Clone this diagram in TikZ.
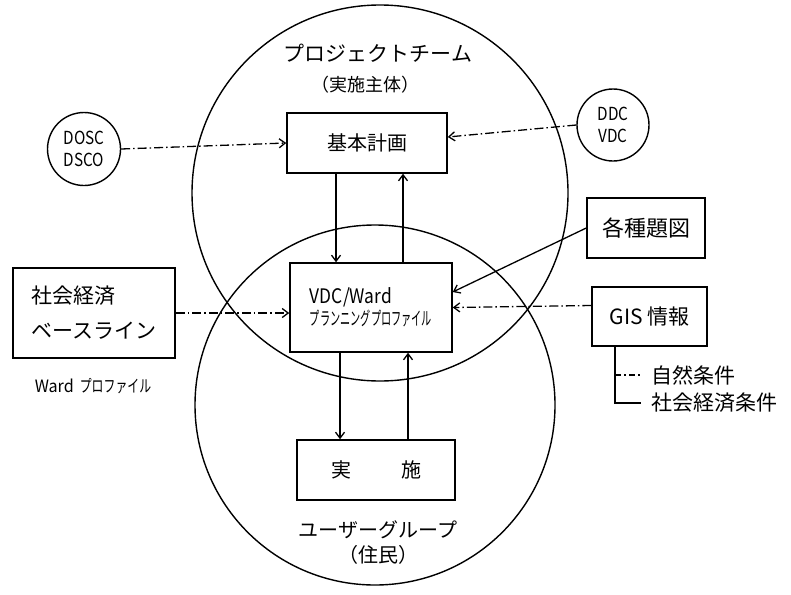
\documentclass[tikz,border=0pt]{standalone}
\usepackage{fontspec}
\setmainfont{Noto Sans CJK JP}
\usetikzlibrary{arrows.meta}
\begin{document}
\begin{tikzpicture}[x=1pt,y=-1pt,
  ln/.style={line width=1.4pt},
  box/.style={draw,line width=1.5pt,inner sep=0pt,fill=white},
  arr/.style={line width=1.3pt,-{Straight Barb[length=6pt,width=9pt]}},
  dd/.style={dash pattern=on 9pt off 3pt on 1.5pt off 3pt},
  jp/.style={font=\fontsize{20}{24}\selectfont},
  sm/.style={font=\fontsize{18}{22}\selectfont},
  lbl/.style={inner sep=0pt},
]
\useasboundingbox (0,0) rectangle (791,594);
% big circles
\draw[ln] (380,193) circle[radius=188pt];
\draw[ln] (375,405) circle[radius=180pt];
% circle labels
\node[lbl,jp,font=\fontsize{21}{24}\selectfont] (pt) at (378,53) {プロジェクトチーム};
\node[lbl,font=\fontsize{18}{22}\selectfont] (pt2) at (365,85) {（実施主体）};
\node[lbl,jp] (ug) at (378,530) {ユーザーグループ};
\node[lbl,jp] (ug2) at (378,555) {（住民）};
% small circles
\node[circle,draw,line width=1.4pt,minimum size=73pt,inner sep=0pt,align=center,sm] (dosc) at (84,149)
  {\scalebox{0.85}[1]{DOSC}\\\scalebox{0.85}[1]{DSCO}};
\node[circle,draw,line width=1.4pt,minimum size=72pt,inner sep=0pt,align=center,sm] (ddc) at (613,125)
  {\scalebox{0.85}[1]{DDC}\\\scalebox{0.85}[1]{VDC}};
% boxes
\node[box,jp,minimum width=160pt,minimum height=60pt] (kihon) at (367,143) {基本計画};
\node[box,minimum width=162pt,minimum height=89pt,align=left] (vdc) at (371,307.5)
  {\scalebox{0.87}[1]{\fontsize{20}{24}\selectfont VDC/Ward}\\[2pt]
   \scalebox{0.55}[1]{\fontsize{18.5}{22}\selectfont プランニングプロファイル}};
\node[box,jp,minimum width=158pt,minimum height=60pt] (jisshi) at (376,470) {実\hspace{2.5em}施};
\node[box,minimum width=162pt,minimum height=90pt,align=left,font=\fontsize{21}{35}\selectfont] (base) at (94,313)
  {社会経済\\ベースライン};
\node[box,minimum width=118pt,minimum height=60pt,font=\fontsize{22}{26}\selectfont] (kakushu) at (646,228) {各種題図};
\node[box,minimum width=115pt,minimum height=59pt,font=\fontsize{21}{26}\selectfont] (gis) at (649.5,316.5) {GIS 情報};
% side labels
\node[lbl] (wardp) at (93,386) {{\fontsize{17}{20}\selectfont\scalebox{0.95}[1]{Ward}}\hspace{6pt}{\scalebox{0.7}[1]{\fontsize{17}{20}\selectfont プロファイル}}};
\node[lbl,anchor=west,font=\fontsize{21}{24}\selectfont] (shizen) at (651,375) {自然条件};
\node[lbl,anchor=west,font=\fontsize{21}{24}\selectfont] (shakai) at (651,403) {社会経済条件};
% connectors
\draw[arr,dd] (dosc.east) -- (kihon.west);
\draw[arr,dd] (ddc.west) -- ([yshift=6pt]kihon.east);
\draw[arr] ([xshift=-31pt]kihon.south) -- ([xshift=-31pt]kihon.south |- vdc.north);
\draw[arr] ([xshift=36pt]kihon.south |- vdc.north) -- ([xshift=36pt]kihon.south);
\draw[arr] ([xshift=-31pt]vdc.south) -- ([xshift=-31pt]vdc.south |- jisshi.north);
\draw[arr] ([xshift=37pt]vdc.south |- jisshi.north) -- ([xshift=37pt]vdc.south);
\draw[arr,dd] (base.east) -- (base.east -| vdc.west);
\draw[arr] (kakushu.west) -- ([yshift=15.5pt]vdc.east);
\draw[arr,dd] ([yshift=11pt]gis.west) -- (vdc.east);
% tree
\coordinate (t0) at ([xshift=-34.5pt]gis.south);
\draw[ln] (t0) |- ([xshift=-10pt]shakai.west);
\draw[ln,dash pattern=on 6pt off 3pt on 2pt off 3pt] (t0 |- shizen.west) -- ([xshift=-10pt]shizen.west);
\end{tikzpicture}
\end{document}
